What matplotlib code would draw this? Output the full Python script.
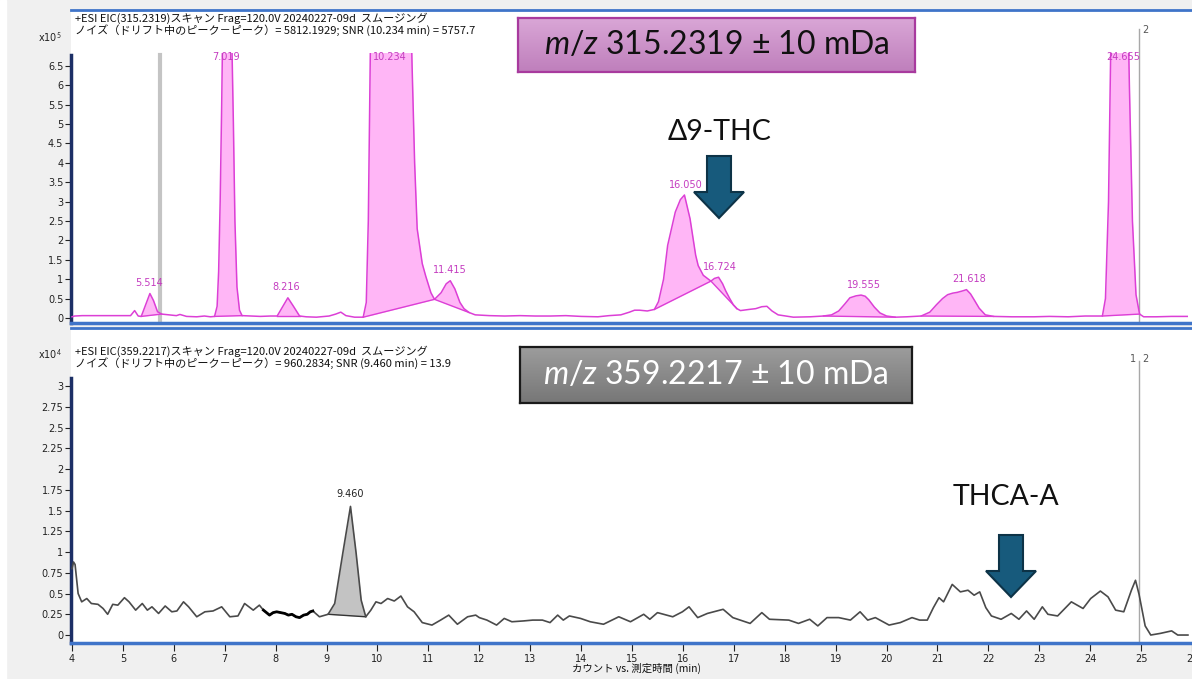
import numpy as np
import matplotlib
matplotlib.use("Agg")
import matplotlib.pyplot as plt
from matplotlib.patches import Polygon, Rectangle
from matplotlib.colors import LinearSegmentedColormap
from matplotlib.lines import Line2D

# ---------------- data ----------------
top_t = [4.00, 4.05, 4.20, 4.60, 5.00, 5.15, 5.23, 5.30, 5.36, 5.45, 5.53, 5.60, 5.68, 5.76,
         5.90, 6.05, 6.12, 6.25, 6.45, 6.60, 6.72, 6.80, 6.85, 6.88, 6.91, 6.94, 6.97, 7.02,
         7.12, 7.17, 7.20, 7.24, 7.29, 7.34, 7.50, 7.70, 7.90, 8.03, 8.12, 8.24, 8.35, 8.47,
         8.60, 8.80, 9.05, 9.18, 9.28, 9.38, 9.55, 9.72, 9.78, 9.82, 9.86, 9.90, 10.00, 10.234,
         10.50, 10.62, 10.68, 10.73, 10.78, 10.88, 10.95, 11.05, 11.12, 11.25, 11.35, 11.43,
         11.52, 11.62, 11.70, 11.80, 11.92, 12.20, 12.50, 12.80, 13.10, 13.40, 13.70, 14.00,
         14.33, 14.55, 14.78, 14.95, 15.05, 15.15, 15.30, 15.44, 15.52, 15.62, 15.70, 15.85,
         15.95, 16.03, 16.14, 16.25, 16.30, 16.40, 16.55, 16.62, 16.70, 16.78, 16.84, 16.92,
         16.99, 17.06, 17.13, 17.30, 17.43, 17.55, 17.65, 17.75, 17.87, 18.17, 18.50, 18.76,
         18.92, 19.06, 19.18, 19.28, 19.40, 19.50, 19.58, 19.65, 19.76, 19.87, 20.00, 20.17,
         20.40, 20.68, 20.85, 20.98, 21.10, 21.20, 21.30, 21.39, 21.50, 21.57, 21.65, 21.72,
         21.82, 21.94, 22.10, 22.46, 22.90, 23.20, 23.57, 23.90, 24.24, 24.30, 24.36, 24.41,
         24.50, 24.62, 24.72, 24.77, 24.83, 24.90, 24.97, 25.05, 25.30, 25.60, 25.92]
top_y = [0.03, 0.05, 0.06, 0.06, 0.06, 0.06, 0.19, 0.05, 0.04, 0.35, 0.63, 0.45, 0.16, 0.10,
         0.08, 0.06, 0.09, 0.04, 0.03, 0.05, 0.03, 0.04, 0.30, 1.20, 3.00, 5.50, 8.50, 10.0,
         8.50, 5.00, 2.50, 0.80, 0.20, 0.06, 0.05, 0.04, 0.05, 0.05, 0.25, 0.52, 0.30, 0.05,
         0.03, 0.02, 0.05, 0.10, 0.15, 0.06, 0.02, 0.02, 0.40, 2.50, 7.00, 11.0, 13.0, 14.0,
         13.0, 10.0, 6.50, 4.00, 2.30, 1.40, 1.07, 0.65, 0.48, 0.65, 0.88, 0.96,
         0.75, 0.40, 0.24, 0.14, 0.08, 0.06, 0.05, 0.06, 0.05, 0.05, 0.06, 0.04,
         0.03, 0.06, 0.08, 0.15, 0.20, 0.20, 0.18, 0.22, 0.42, 1.00, 1.87, 2.73,
         3.05, 3.17, 2.56, 1.62, 1.35, 1.10, 0.95, 1.02, 1.05, 0.88, 0.70, 0.50,
         0.34, 0.24, 0.19, 0.22, 0.24, 0.29, 0.30, 0.18, 0.08, 0.02, 0.03, 0.05,
         0.08, 0.18, 0.36, 0.52, 0.57, 0.59, 0.56, 0.47, 0.28, 0.13, 0.05, 0.02,
         0.03, 0.05, 0.15, 0.34, 0.50, 0.60, 0.64, 0.66, 0.70, 0.73, 0.62, 0.47,
         0.25, 0.08, 0.04, 0.03, 0.03, 0.04, 0.03, 0.05, 0.05, 0.50, 3.00, 7.50,
         11.0, 12.0, 9.50, 6.00, 2.50, 0.60, 0.10, 0.03, 0.03, 0.04, 0.04]

# integrated peaks (label, window start, window end)
top_peak_labels = ["5.514", "7.019", "8.216", "10.234", "11.415", "16.050", "16.724",
                   "19.555", "21.618", "24.655"]
top_peak_start = [5.36, 6.80, 8.03, 9.72, 11.12, 15.44, 16.55, 18.76, 20.68, 24.24]
top_peak_end = [5.76, 7.34, 8.47, 11.12, 11.80, 16.55, 17.06, 20.17, 22.10, 24.97]

bot_t = [4.00, 4.03, 4.06, 4.12, 4.19, 4.29, 4.38, 4.51, 4.61, 4.70, 4.80, 4.90, 5.03, 5.12,
         5.25, 5.38, 5.48, 5.57, 5.70, 5.83, 5.96, 6.06, 6.19, 6.29, 6.45, 6.61, 6.77, 6.94,
         7.10, 7.26, 7.39, 7.56, 7.68, 7.76, 7.82, 7.88, 7.95, 8.02, 8.10, 8.18, 8.25, 8.32,
         8.40, 8.47, 8.55, 8.62, 8.68, 8.73, 8.86, 9.03, 9.16, 9.32, 9.47, 9.58, 9.68, 9.77,
         9.87, 9.97, 10.07, 10.20, 10.33, 10.46, 10.59, 10.72, 10.88, 11.07, 11.24, 11.40,
         11.57, 11.77, 11.93, 12.00, 12.15, 12.34, 12.49, 12.64, 12.87, 13.05, 13.24, 13.39,
         13.54, 13.65, 13.77, 13.99, 14.18, 14.44, 14.74, 14.97, 15.23, 15.35, 15.50, 15.80,
         15.99, 16.12, 16.29, 16.48, 16.79, 16.98, 17.32, 17.55, 17.70, 18.08, 18.27, 18.49,
         18.65, 18.83, 19.06, 19.29, 19.48, 19.63, 19.78, 20.05, 20.27, 20.50, 20.65, 20.80,
         20.92, 21.03, 21.12, 21.29, 21.45, 21.60, 21.72, 21.83, 21.95, 22.06, 22.25, 22.45,
         22.60, 22.75, 22.90, 23.06, 23.17, 23.36, 23.63, 23.86, 24.01, 24.20, 24.35, 24.50,
         24.66, 24.81, 24.89, 24.96, 25.08, 25.19, 25.38, 25.60, 25.72, 25.92]
bot_y = [0.80, 0.88, 0.85, 0.50, 0.40, 0.44, 0.38, 0.37, 0.32, 0.25, 0.37, 0.36, 0.45, 0.40,
         0.30, 0.38, 0.30, 0.34, 0.26, 0.35, 0.28, 0.29, 0.40, 0.34, 0.22, 0.28, 0.29, 0.34,
         0.22, 0.23, 0.38, 0.30, 0.36, 0.30, 0.27, 0.24, 0.27, 0.28, 0.27, 0.26, 0.24, 0.25,
         0.22, 0.21, 0.24, 0.25, 0.28, 0.29, 0.22, 0.25, 0.38, 0.99, 1.55, 0.99, 0.42, 0.22,
         0.30, 0.40, 0.38, 0.44, 0.41, 0.47, 0.34, 0.28, 0.15, 0.12, 0.18, 0.24,
         0.13, 0.22, 0.24, 0.21, 0.18, 0.12, 0.20, 0.16, 0.17, 0.18, 0.18, 0.15,
         0.24, 0.18, 0.23, 0.20, 0.16, 0.13, 0.22, 0.16, 0.25, 0.19, 0.27, 0.22,
         0.28, 0.34, 0.21, 0.26, 0.31, 0.21, 0.14, 0.27, 0.19, 0.18, 0.14, 0.19,
         0.11, 0.21, 0.21, 0.18, 0.28, 0.18, 0.21, 0.12, 0.15, 0.21, 0.18, 0.18,
         0.33, 0.45, 0.40, 0.61, 0.52, 0.54, 0.48, 0.52, 0.33, 0.23, 0.19, 0.26,
         0.19, 0.29, 0.19, 0.34, 0.25, 0.23, 0.40, 0.32, 0.44, 0.53, 0.46, 0.30,
         0.28, 0.54, 0.66, 0.49, 0.11, 0.00, 0.02, 0.05, 0.00, 0.00]
bot_peak_labels = ["9.460"]
bot_peak_start = [9.03]
bot_peak_end = [9.77]
bot_bold_range = (7.76, 8.73)

marker_times = [5.72, 24.96]

top_yticks = [0, 0.5, 1, 1.5, 2, 2.5, 3, 3.5, 4, 4.5, 5, 5.5, 6, 6.5]
bot_yticks = [0, 0.25, 0.5, 0.75, 1, 1.25, 1.5, 1.75, 2, 2.25, 2.5, 2.75, 3]
xticks = list(range(4, 27))

top_header = ["+ESI EIC(315.2319)スキャン Frag=120.0V 20240227-09d  スムージング",
              "ノイズ（ドリフト中のピーク－ピーク）= 5812.1929; SNR (10.234 min) = 5757.7"]
bot_header = ["+ESI EIC(359.2217)スキャン Frag=120.0V 20240227-09d  スムージング",
              "ノイズ（ドリフト中のピーク－ピーク）= 960.2834; SNR (9.460 min) = 13.9"]
top_box_text = "315.2319 ± 10 mDa"
bot_box_text = "359.2217 ± 10 mDa"
xlabel = "カウント vs. 測定時間 (min)"

# ---------------- style ----------------
plt.rcParams['font.family'] = ['DejaVu Sans']
plt.rcParams['mathtext.fontset'] = 'custom'
plt.rcParams['mathtext.it'] = 'Lato:italic'
plt.rcParams['mathtext.rm'] = 'Lato'
JP = ['Noto Sans CJK JP', 'DejaVu Sans']

W, H = 1192, 679
fig = plt.figure(figsize=(W / 100, H / 100), dpi=100)
fig.patch.set_facecolor('#f0f0f0')
fig.add_artist(Rectangle((0, 0), 6 / W, 1, transform=fig.transFigure, color='white', zorder=-5))


def fx(x):
    return x / W


def fy(y):
    return 1 - y / H


XL = (3.98, 25.92)
ax1 = fig.add_axes([fx(71), fy(323), 1 - fx(71), fy(10) - fy(323)])
ax2 = fig.add_axes([fx(71), fy(643), 1 - fx(71), fy(328) - fy(643)])
ax1.set_ylim(-0.13, 7.94)
ax2.set_ylim(-0.096, 3.70)

MAG = '#dc3fd6'
MAGFILL = '#ffb6f6'
MAGTXT = '#c43cc0'

for ax in (ax1, ax2):
    ax.set_xlim(*XL)
    ax.set_facecolor('white')
    ax.spines['right'].set_visible(False)
    ax.spines['top'].set_color('#3f74c9')
    ax.spines['top'].set_linewidth(2)
    ax.spines['bottom'].set_color('#3f74c9')
    ax.spines['bottom'].set_linewidth(2.5)
    ax.spines['left'].set_color('#1c2f66')
    ax.spines['left'].set_linewidth(2.5)
    ax.set_xticks(xticks)
    ax.tick_params(axis='both', labelsize=7, length=4, width=0.8, pad=1.5, colors='#222222')

ax1.spines['left'].set_bounds(-0.13, 6.78)
ax1.add_line(Line2D([0, 0], [6.78, 7.94], color='#5d8fd6', lw=1.5, clip_on=False))
ax2.spines['left'].set_bounds(-0.096, 3.1)
ax2.add_line(Line2D([0, 0], [3.1, 3.70], color='#5d8fd6', lw=1.5, clip_on=False))
ax1.set_xticklabels([])
ax1.tick_params(axis='x', length=0)
ax2.set_xticklabels([str(v) for v in xticks])
ax2.tick_params(axis='x', length=6, direction='out', pad=2)

ax1.set_yticks(top_yticks)
ax1.set_yticklabels([f"{v:g}" for v in top_yticks])
ax2.set_yticks(bot_yticks)
ax2.set_yticklabels([f"{v:g}" for v in bot_yticks])

tt = np.array(top_t)
ty = np.array(top_y)
bt = np.array(bot_t)
by = np.array(bot_y)

# clip region for chromatogram drawing (below header)
clip1 = Rectangle((XL[0], -1), XL[1] - XL[0], 1 + 6.83, transform=ax1.transData)

# top fills
for lab, s, e in zip(top_peak_labels, top_peak_start, top_peak_end):
    m = (tt >= s - 1e-9) & (tt <= e + 1e-9)
    xs = tt[m]
    ys = ty[m]
    base = np.interp(xs, [xs[0], xs[-1]], [ys[0], ys[-1]])
    pc = ax1.fill_between(xs, base, ys, color=MAGFILL, lw=0, zorder=2)
    pc.set_clip_path(clip1)
    bl, = ax1.plot([xs[0], xs[-1]], [ys[0], ys[-1]], color=MAG, lw=1.0, zorder=3)
    apex = ys.max()
    rt = float(lab)
    ly = min(apex + 0.27, 6.72)
    ax1.text(rt, ly, lab, color=MAGTXT, fontsize=7, ha='center', va='center', zorder=6)

ln, = ax1.plot(tt, ty, color=MAG, lw=1.1, zorder=4)
ln.set_clip_path(clip1)

# marker lines
ax1.plot([marker_times[0]] * 2, [-0.13, 6.78], color='#c4c4c4', lw=3, zorder=1)
ax1.plot([marker_times[1]] * 2, [-0.13, 7.45], color='#a8a8a8', lw=1, zorder=1)
ax1.text(marker_times[1] + 0.06, 7.43, "2", fontsize=7, color='#555555', va='center', ha='left')
ax2.plot([marker_times[1]] * 2, [-0.096, 3.3], color='#a8a8a8', lw=1, zorder=1)
ax2.text(marker_times[1] - 0.06, 3.33, "1", fontsize=7, color='#555555', va='center', ha='right')
ax2.text(marker_times[1] + 0.06, 3.33, "2", fontsize=7, color='#555555', va='center', ha='left')

# bottom fills
for lab, s, e in zip(bot_peak_labels, bot_peak_start, bot_peak_end):
    m = (bt >= s - 1e-9) & (bt <= e + 1e-9)
    xs = bt[m]
    ys = by[m]
    base = np.interp(xs, [xs[0], xs[-1]], [ys[0], ys[-1]])
    ax2.fill_between(xs, base, ys, color='#c3c3c3', lw=0, zorder=2)
    ax2.plot([xs[0], xs[-1]], [ys[0], ys[-1]], color='#333333', lw=1.0, zorder=3)
    ax2.text(float(lab), ys.max() + 0.15, lab, color='#222222', fontsize=7, ha='center',
             va='center', zorder=6)

ax2.plot(bt, by, color='#4a4a4a', lw=1.2, zorder=4)
mb = (bt >= bot_bold_range[0]) & (bt <= bot_bold_range[1])
ax2.plot(bt[mb], by[mb], color='black', lw=2.0, zorder=5)

# headers
for ax, hdr, yy in ((ax1, top_header, (18, 30)), (ax2, bot_header, (351, 363))):
    for line, ypx in zip(hdr, yy):
        fig.text(fx(75), fy(ypx), line, fontsize=8, family=JP, ha='left', va='center',
                 color='#111111')
fig.text(fx(62), fy(38), r"x10$^{5}$", fontsize=7, ha='right', va='center', color='#222222')
fig.text(fx(62), fy(355), r"x10$^{4}$", fontsize=7, ha='right', va='center', color='#222222')
fig.text(fx(637), fy(668), xlabel, fontsize=7.5, family=JP, ha='center', va='center',
         color='#111111')


# gradient boxes
def gbox(x0, y0, x1, y1, c_top, c_bot, edge, text, tcolor):
    bax = fig.add_axes([fx(x0), fy(y1), fx(x1) - fx(x0), fy(y0) - fy(y1)])
    cmap = LinearSegmentedColormap.from_list('g', [c_top, c_bot])
    bax.imshow(np.linspace(0, 1, 50).reshape(-1, 1), aspect='auto', cmap=cmap,
               extent=[0, 1, 0, 1], origin='upper')
    bax.set_xticks([])
    bax.set_yticks([])
    for s in bax.spines.values():
        s.set_color(edge)
        s.set_linewidth(1.6)
    bax.text(0.5, 0.5, r"$\mathit{m/z}$ " + text, fontsize=23, family='Lato',
             color=tcolor, ha='center', va='center', transform=bax.transAxes)


gbox(518, 18, 915, 72, '#d9a6d6', '#bf7fbc', '#a83a9e', top_box_text, '#111111')
gbox(520, 347, 912, 403, '#9c9c9c', '#777777', '#1a1a1a', bot_box_text, 'white')


# arrows
def arrow(cx, ytop, yhead, ytip, sw=12, hw=25):
    pts = [(cx - sw, ytop), (cx + sw, ytop), (cx + sw, yhead), (cx + hw, yhead), (cx, ytip),
           (cx - hw, yhead), (cx - sw, yhead)]
    fig.add_artist(Polygon([(fx(a), fy(b)) for a, b in pts], closed=True,
                           transform=fig.transFigure, facecolor='#175a7c',
                           edgecolor='#0d3347', lw=1.5, zorder=10))


arrow(719, 156, 192, 218)
arrow(1011, 535, 571, 597)
fig.text(fx(720), fy(132), "Δ9-THC", fontsize=20.5, family='Lato', ha='center', va='center',
         color='#111111')
fig.text(fx(1006), fy(497), "THCA-A", fontsize=20.5, family='Lato', ha='center', va='center',
         color='#111111')

fig.savefig("out.png", dpi=100, facecolor=fig.get_facecolor())
